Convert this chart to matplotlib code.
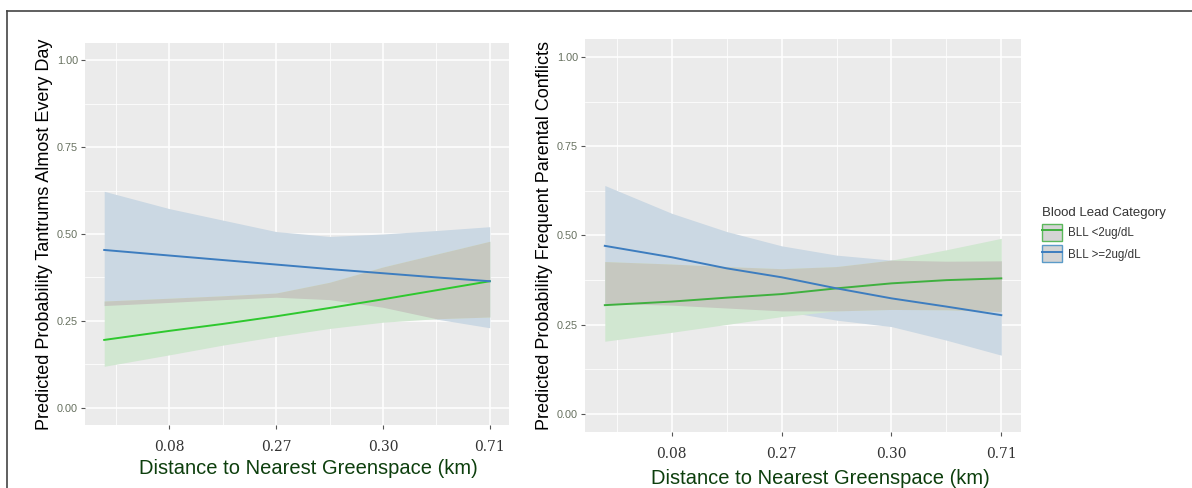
import matplotlib
matplotlib.use('Agg')
import matplotlib.pyplot as plt
import numpy as np
from matplotlib.lines import Line2D
from matplotlib.patches import Patch

# x positions on the (categorical-like) distance scale, ticks at 1..4
x_pos = [0.39, 1.0, 1.5, 2.0, 2.5, 3.0, 3.5, 4.0]
tick_pos = [1, 2, 3, 4]
tick_labels = ['0.08', '0.27', '0.30', '0.71']

# panel 1: tantrums almost every day
tan_blue_fit = [0.454, 0.438, 0.425, 0.412, 0.399, 0.387, 0.375, 0.364]
tan_blue_lo = [0.294, 0.303, 0.311, 0.318, 0.311, 0.289, 0.255, 0.230]
tan_blue_hi = [0.623, 0.573, 0.540, 0.507, 0.493, 0.500, 0.510, 0.521]
tan_green_fit = [0.195, 0.221, 0.241, 0.263, 0.287, 0.312, 0.338, 0.364]
tan_green_lo = [0.119, 0.152, 0.180, 0.205, 0.228, 0.246, 0.256, 0.261]
tan_green_hi = [0.307, 0.315, 0.322, 0.330, 0.361, 0.405, 0.442, 0.479]

# panel 2: frequent parental conflicts
con_blue_fit = [0.471, 0.439, 0.408, 0.383, 0.352, 0.324, 0.301, 0.277]
con_blue_lo = [0.310, 0.305, 0.297, 0.289, 0.263, 0.245, 0.207, 0.165]
con_blue_hi = [0.640, 0.562, 0.511, 0.471, 0.445, 0.431, 0.428, 0.429]
con_green_fit = [0.305, 0.315, 0.326, 0.336, 0.352, 0.366, 0.375, 0.380]
con_green_lo = [0.204, 0.229, 0.251, 0.273, 0.289, 0.293, 0.292, 0.287]
con_green_hi = [0.427, 0.420, 0.413, 0.407, 0.413, 0.431, 0.460, 0.492]

legend_title = 'Blood Lead Category'
legend_labels = ['BLL <2ug/dL', 'BLL >=2ug/dL']

BLUE = '#3d7dbf'
BLUE_BAND = '#cbd8e3'
GREEN_BAND = '#d1e7d1'
OVERLAP = '#c6c8c0'
PANEL = '#ebebeb'

plt.rcParams['font.family'] = ['Liberation Sans', 'DejaVu Sans']

fig = plt.figure(figsize=(11.92, 4.88), dpi=100)


def draw_panel(ax, b_fit, b_lo, b_hi, g_fit, g_lo, g_hi, green, ylabel,
               xlabel_xy):
    x = np.array(x_pos)
    b_lo, b_hi = np.array(b_lo), np.array(b_hi)
    g_lo, g_hi = np.array(g_lo), np.array(g_hi)

    ax.set_facecolor(PANEL)
    ax.set_xlim(0.21, 4.18)
    ax.set_ylim(-0.05, 1.05)
    ax.set_xticks(tick_pos)
    ax.set_xticks([0.5, 1.5, 2.5, 3.5], minor=True)
    ax.set_xticklabels(tick_labels, family='DejaVu Serif', fontsize=10,
                       color='#333333')
    ax.set_yticks([0, 0.25, 0.5, 0.75, 1.0])
    ax.set_yticks([0.125, 0.375, 0.625, 0.875], minor=True)
    ax.set_yticklabels(['0.00', '0.25', '0.50', '0.75', '1.00'],
                       fontsize=7.8, color='#66705f')
    ax.grid(which='major', color='white', lw=1.1)
    ax.grid(which='minor', color='white', lw=0.55)
    ax.set_axisbelow(True)
    ax.tick_params(which='major', length=3, color='#555555', width=0.8)
    ax.tick_params(which='minor', length=0)
    ax.tick_params(axis='x', pad=8)
    ax.tick_params(axis='y', pad=2)
    for s in ax.spines.values():
        s.set_visible(False)

    ax.fill_between(x, b_lo, b_hi, color=BLUE_BAND, lw=0, zorder=2)
    ax.fill_between(x, g_lo, g_hi, color=GREEN_BAND, lw=0, zorder=2)
    ov_lo = np.maximum(b_lo, g_lo)
    ov_hi = np.minimum(b_hi, g_hi)
    ax.fill_between(x, ov_lo, ov_hi, where=ov_hi > ov_lo, interpolate=True,
                    color=OVERLAP, lw=0, zorder=3)
    ax.plot(x, g_fit, color=green, lw=1.4, zorder=4)
    ax.plot(x, b_fit, color=BLUE, lw=1.4, zorder=5)

    ax.set_ylabel(ylabel, fontsize=13, color='black', labelpad=3)
    ax.set_xlabel('Distance to Nearest Greenspace (km)', fontsize=14.5,
                  color='#0d3f0d')
    ax.xaxis.set_label_coords(*xlabel_xy)


ax1 = fig.add_axes([0.0713, 0.1291, 0.3557, 0.7828])
draw_panel(ax1, tan_blue_fit, tan_blue_lo, tan_blue_hi,
           tan_green_fit, tan_green_lo, tan_green_hi, '#2ec82e',
           'Predicted Probability Tantrums Almost Every Day', (0.528, -0.090))

ax2 = fig.add_axes([0.4908, 0.1148, 0.3658, 0.8053])
draw_panel(ax2, con_blue_fit, con_blue_lo, con_blue_hi,
           con_green_fit, con_green_lo, con_green_hi, '#3fb03f',
           'Predicted Probability Frequent Parental Conflicts', (0.539, -0.095))

handles = [
    (Patch(facecolor='#d4d4d4', edgecolor='#5cb85c', lw=1.0),
     Line2D([], [], color='#3fb03f', lw=1.4)),
    (Patch(facecolor='#d4d4d4', edgecolor='#5b9bc8', lw=1.0),
     Line2D([], [], color=BLUE, lw=1.4)),
]
leg = fig.legend(handles, legend_labels, title=legend_title,
                 loc='upper left', bbox_to_anchor=(0.8705, 0.585),
                 frameon=False, fontsize=8.3, title_fontsize=9.5,
                 handlelength=1.75, handleheight=1.9, handletextpad=0.5,
                 labelspacing=0.4, borderaxespad=0)
leg._legend_box.align = 'left'
for t in leg.get_texts():
    t.set_color('#333333')
leg.get_title().set_color('#333333')

# screenshot border (top and left)
fig.add_artist(Line2D([0.006, 1.0], [0.978, 0.978], color='#444444', lw=1.2))
fig.add_artist(Line2D([0.006, 0.006], [0.0, 0.978], color='#444444', lw=1.2))

fig.savefig('out.png', dpi=100)
